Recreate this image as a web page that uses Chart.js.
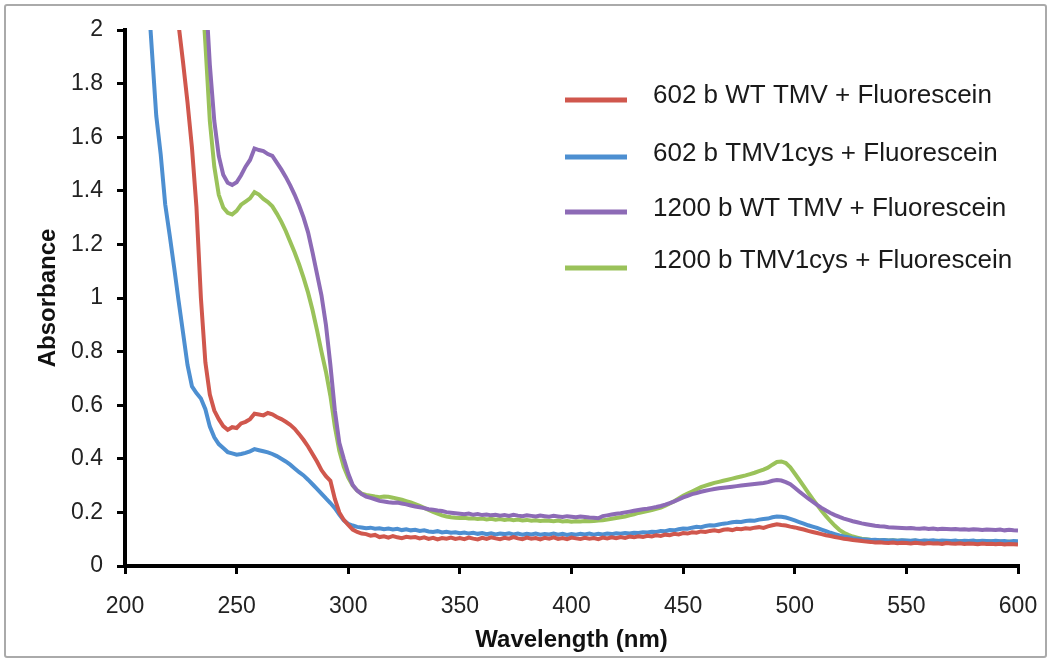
<!DOCTYPE html>
<html>
<head>
<meta charset="utf-8">
<title>Absorbance spectra</title>
<script src="https://cdn.jsdelivr.net/npm/chart.js@4/dist/chart.umd.min.js"></script>
<style>
  body { margin: 0; background: #fff; }
  #wrap { position: relative; width: 1052px; height: 661px; }
  #frame {
    position: absolute; left: 4px; top: 4px; width: 1039px; height: 650px;
    border: 2px solid #aaa; border-radius: 3px; pointer-events: none;
  }
  canvas { position: absolute; left: 0; top: 0; }
</style>
</head>
<body>
<div id="wrap">
  <canvas id="spectra" width="1052" height="661"></canvas>
  <div id="frame"></div>
</div>
<script>
// wavelength grid (nm), 2 nm steps
const wavelengths = [
  210, 212, 214, 216, 218, 220, 222, 224, 226, 228,
  230, 232, 234, 236, 238, 240, 242, 244, 246, 248,
  250, 252, 254, 256, 258, 260, 262, 264, 266, 268,
  270, 272, 274, 276, 278, 280, 282, 284, 286, 288,
  290, 292, 294, 296, 298, 300, 302, 304, 306, 308,
  310, 312, 314, 316, 318, 320, 322, 324, 326, 328,
  330, 332, 334, 336, 338, 340, 342, 344, 346, 348,
  350, 352, 354, 356, 358, 360, 362, 364, 366, 368,
  370, 372, 374, 376, 378, 380, 382, 384, 386, 388,
  390, 392, 394, 396, 398, 400, 402, 404, 406, 408,
  410, 412, 414, 416, 418, 420, 422, 424, 426, 428,
  430, 432, 434, 436, 438, 440, 442, 444, 446, 448,
  450, 452, 454, 456, 458, 460, 462, 464, 466, 468,
  470, 472, 474, 476, 478, 480, 482, 484, 486, 488,
  490, 492, 494, 496, 498, 500, 502, 504, 506, 508,
  510, 512, 514, 516, 518, 520, 522, 524, 526, 528,
  530, 532, 534, 536, 538, 540, 542, 544, 546, 548,
  550, 552, 554, 556, 558, 560, 562, 564, 566, 568,
  570, 572, 574, 576, 578, 580, 582, 584, 586, 588,
  590, 592, 594, 596, 598, 600
];

// 602 b WT TMV + Fluorescein
const wt602 = [
  null, null, null, null, null, null, 2.16, 2.02, 1.88, 1.73,
  1.56, 1.34, 1.00, 0.76, 0.64, 0.58, 0.548, 0.522, 0.508, 0.518,
  0.515, 0.532, 0.538, 0.548, 0.568, 0.565, 0.562, 0.571, 0.566, 0.556,
  0.548, 0.538, 0.527, 0.512, 0.492, 0.470, 0.446, 0.418, 0.390, 0.358,
  0.335, 0.318, 0.250, 0.200, 0.172, 0.153, 0.136, 0.127, 0.121, 0.119,
  0.113, 0.116, 0.108, 0.111, 0.106, 0.112, 0.107, 0.104, 0.109, 0.106,
  0.108, 0.103, 0.107, 0.101, 0.105, 0.099, 0.104, 0.102, 0.106, 0.101,
  0.104, 0.100, 0.106, 0.102, 0.099, 0.105, 0.101, 0.107, 0.103, 0.100,
  0.105, 0.102, 0.108, 0.103, 0.100, 0.106, 0.102, 0.104, 0.099, 0.105,
  0.102, 0.107, 0.101, 0.104, 0.100, 0.106, 0.103, 0.101, 0.105, 0.102,
  0.104, 0.100, 0.106, 0.103, 0.107, 0.104, 0.108, 0.105, 0.110, 0.107,
  0.111, 0.108, 0.113, 0.110, 0.115, 0.112, 0.117, 0.115, 0.120, 0.118,
  0.123, 0.121, 0.126, 0.124, 0.129, 0.127, 0.131, 0.133, 0.130, 0.135,
  0.137, 0.134, 0.139, 0.137, 0.141, 0.139, 0.143, 0.145, 0.142, 0.148,
  0.152, 0.156, 0.153, 0.151, 0.147, 0.144, 0.140, 0.136, 0.131, 0.127,
  0.123, 0.119, 0.115, 0.112, 0.108, 0.105, 0.102, 0.100, 0.097, 0.095,
  0.093, 0.091, 0.090, 0.088, 0.089, 0.087, 0.086, 0.088, 0.085, 0.087,
  0.086, 0.084, 0.087, 0.085, 0.083, 0.086, 0.084, 0.085, 0.082, 0.086,
  0.084, 0.083, 0.085, 0.082, 0.084, 0.083, 0.081, 0.084, 0.082, 0.083,
  0.081, 0.083, 0.080, 0.082, 0.081, 0.080
];

// 602 b TMV1cys + Fluorescein
const cys602 = [
  2.18, 1.93, 1.68, 1.535, 1.35, 1.235, 1.115, 0.99, 0.87, 0.75,
  0.67, 0.645, 0.625, 0.585, 0.52, 0.48, 0.455, 0.44, 0.425, 0.42,
  0.415, 0.418, 0.422, 0.428, 0.436, 0.432, 0.428, 0.424, 0.418, 0.410,
  0.400, 0.390, 0.378, 0.364, 0.350, 0.338, 0.322, 0.305, 0.288, 0.270,
  0.252, 0.235, 0.216, 0.192, 0.170, 0.157, 0.151, 0.146, 0.144, 0.141,
  0.143, 0.139, 0.141, 0.137, 0.140, 0.136, 0.139, 0.134, 0.137, 0.133,
  0.135, 0.131, 0.133, 0.129, 0.127, 0.130, 0.125, 0.128, 0.124, 0.126,
  0.122, 0.125, 0.121, 0.124, 0.120, 0.123, 0.119, 0.122, 0.118, 0.121,
  0.119, 0.122, 0.118, 0.121, 0.117, 0.120, 0.118, 0.121, 0.117, 0.119,
  0.118, 0.121, 0.117, 0.120, 0.116, 0.119, 0.117, 0.120, 0.118, 0.121,
  0.117, 0.120, 0.118, 0.121, 0.119, 0.122, 0.120, 0.123, 0.121, 0.124,
  0.123, 0.126, 0.125, 0.128, 0.127, 0.131, 0.130, 0.134, 0.133, 0.137,
  0.140, 0.139, 0.143, 0.146, 0.145, 0.149, 0.152, 0.151, 0.155, 0.158,
  0.160, 0.163, 0.165, 0.164, 0.168, 0.170, 0.169, 0.173, 0.175, 0.177,
  0.182, 0.185, 0.184, 0.181, 0.176, 0.170, 0.164, 0.158, 0.152, 0.147,
  0.142, 0.136, 0.130, 0.124, 0.119, 0.114, 0.110, 0.107, 0.104, 0.102,
  0.100, 0.099, 0.097, 0.098, 0.096, 0.097, 0.095, 0.096, 0.094, 0.096,
  0.095, 0.094, 0.096, 0.093, 0.095, 0.094, 0.096, 0.093, 0.095, 0.094,
  0.093, 0.095, 0.092, 0.094, 0.093, 0.095, 0.092, 0.094, 0.093, 0.092,
  0.094, 0.092, 0.093, 0.091, 0.093, 0.092
];

// 1200 b WT TMV + Fluorescein
const wt1200 = [
  null, null, null, null, null, null, null, null, null, null,
  null, null, null, 2.16, 1.87, 1.66, 1.53, 1.46, 1.43, 1.422,
  1.432, 1.458, 1.49, 1.515, 1.558, 1.552, 1.548, 1.537, 1.53, 1.505,
  1.48, 1.452, 1.42, 1.385, 1.345, 1.30, 1.245, 1.17, 1.09, 1.01,
  0.90, 0.75, 0.58, 0.46, 0.40, 0.345, 0.302, 0.281, 0.268, 0.259,
  0.254, 0.249, 0.243, 0.241, 0.238, 0.236, 0.237, 0.233, 0.230, 0.226,
  0.222, 0.219, 0.216, 0.212, 0.210, 0.207, 0.205, 0.201, 0.199, 0.197,
  0.195, 0.193, 0.196, 0.191, 0.194, 0.190, 0.192, 0.189, 0.191, 0.188,
  0.190, 0.187, 0.191, 0.188, 0.186, 0.189, 0.187, 0.185, 0.188, 0.186,
  0.184, 0.187, 0.185, 0.183, 0.186, 0.184, 0.182, 0.185, 0.183, 0.181,
  0.180, 0.178, 0.186, 0.189, 0.192, 0.195, 0.197, 0.200, 0.203, 0.206,
  0.209, 0.212, 0.214, 0.217, 0.220, 0.224, 0.229, 0.235, 0.241, 0.248,
  0.256, 0.262, 0.268, 0.272, 0.277, 0.281, 0.284, 0.287, 0.290, 0.292,
  0.294, 0.296, 0.298, 0.300, 0.302, 0.304, 0.306, 0.308, 0.310, 0.313,
  0.318, 0.321, 0.319, 0.313, 0.305, 0.292, 0.278, 0.265, 0.252, 0.240,
  0.228, 0.217, 0.207, 0.198, 0.190, 0.183, 0.177, 0.172, 0.167, 0.163,
  0.159, 0.156, 0.153, 0.150, 0.148, 0.147, 0.145, 0.144, 0.143, 0.142,
  0.141, 0.142, 0.140, 0.139, 0.141, 0.138, 0.140, 0.137, 0.139, 0.138,
  0.137, 0.138, 0.136, 0.137, 0.135, 0.137, 0.136, 0.134, 0.136, 0.135,
  0.134, 0.136, 0.133, 0.135, 0.133, 0.132
];

// 1200 b TMV1cys + Fluorescein
const cys1200 = [
  null, null, null, null, null, null, null, null, null, null,
  null, null, 2.22, 1.95, 1.66, 1.49, 1.385, 1.338, 1.318, 1.312,
  1.325, 1.348, 1.36, 1.372, 1.395, 1.386, 1.37, 1.358, 1.342, 1.315,
  1.285, 1.25, 1.21, 1.17, 1.125, 1.075, 1.02, 0.955, 0.88, 0.80,
  0.725, 0.635, 0.52, 0.43, 0.37, 0.33, 0.30, 0.282, 0.27, 0.265,
  0.262, 0.259, 0.257, 0.259, 0.258, 0.255, 0.251, 0.247, 0.242, 0.237,
  0.231, 0.224, 0.217, 0.209, 0.202, 0.195, 0.189, 0.185, 0.182, 0.180,
  0.179, 0.180, 0.177, 0.178, 0.175, 0.177, 0.174, 0.176, 0.173, 0.175,
  0.172, 0.174, 0.171, 0.173, 0.170, 0.172, 0.169, 0.171, 0.168, 0.170,
  0.169, 0.167, 0.170, 0.166, 0.168, 0.165, 0.167, 0.166, 0.168, 0.167,
  0.168, 0.170, 0.171, 0.173, 0.176, 0.179, 0.182, 0.185, 0.189, 0.193,
  0.198, 0.201, 0.205, 0.209, 0.213, 0.218, 0.225, 0.233, 0.242, 0.252,
  0.262, 0.270, 0.278, 0.286, 0.294, 0.300, 0.305, 0.310, 0.314, 0.318,
  0.322, 0.326, 0.330, 0.334, 0.338, 0.343, 0.348, 0.354, 0.360, 0.367,
  0.378, 0.388, 0.390, 0.384, 0.368, 0.345, 0.322, 0.298, 0.274, 0.250,
  0.228, 0.206, 0.186, 0.167, 0.150, 0.135, 0.124, 0.116, 0.110, 0.106,
  0.102, 0.100, 0.098, 0.097, 0.096, 0.097, 0.095, 0.096, 0.094, 0.095,
  0.094, 0.093, 0.095, 0.092, 0.094, 0.093, 0.092, 0.094, 0.091, 0.093,
  0.092, 0.091, 0.093, 0.090, 0.092, 0.091, 0.093, 0.090, 0.091, 0.092,
  0.090, 0.091, 0.089, 0.091, 0.090, 0.089
];

const seriesNames = [
  '602 b WT TMV + Fluorescein',
  '602 b TMV1cys + Fluorescein',
  '1200 b WT TMV + Fluorescein',
  '1200 b TMV1cys + Fluorescein'
];
const seriesValues = [wt602, cys602, wt1200, cys1200];
const seriesColors = ['#d0574d', '#4d8fd1', '#8d6bb6', '#9ac25a'];

const xTicks = [200, 250, 300, 350, 400, 450, 500, 550, 600];
const yTicks = [0, 0.2, 0.4, 0.6, 0.8, 1, 1.2, 1.4, 1.6, 1.8, 2];

const tickFont = { family: 'Liberation Sans, Arial, sans-serif', size: 23 };
const titleFont = { family: 'Liberation Sans, Arial, sans-serif', size: 24, weight: 'bold' };

// legend drawn inside the plot, line sample + label per series
const sideLegend = {
  id: 'sideLegend',
  afterDatasetsDraw(chart, args, opts) {
    const ctx = chart.ctx;
    ctx.save();
    ctx.font = opts.font;
    ctx.fillStyle = '#1a1a1a';
    ctx.textBaseline = 'middle';
    ctx.textAlign = 'left';
    chart.data.datasets.forEach((ds, i) => {
      const y = opts.rows[i];
      ctx.strokeStyle = ds.borderColor;
      ctx.lineWidth = 5;
      ctx.beginPath();
      ctx.moveTo(opts.lineFrom, y);
      ctx.lineTo(opts.lineTo, y);
      ctx.stroke();
      ctx.fillText(ds.label, opts.textX, y + opts.textDy[i]);
    });
    ctx.restore();
  }
};

new Chart(document.getElementById('spectra'), {
  type: 'line',
  data: {
    datasets: seriesNames.map((name, i) => ({
      label: name,
      data: wavelengths.map((w, k) => ({ x: w, y: seriesValues[i][k] })),
      borderColor: seriesColors[i],
      borderWidth: 4,
      pointRadius: 0,
      tension: 0,
      spanGaps: false
    }))
  },
  options: {
    responsive: false,
    animation: false,
    events: [],
    layout: { padding: { left: 0, top: 30, right: 34, bottom: 0 } },
    plugins: {
      legend: { display: false },
      tooltip: { enabled: false },
      sideLegend: {
        font: '26px "Liberation Sans", Arial, sans-serif',
        lineFrom: 565, lineTo: 627, textX: 653,
        rows: [100, 157, 212, 268],
        textDy: [-4, -3, -3, -7]
      }
    },
    scales: {
      x: {
        type: 'linear',
        min: 200, max: 600,
        // keep the plot edge fixed; the end labels may hang past it
        afterFit: s => { s.height = 95; s.paddingLeft = 0; s.paddingRight = 0; },
        afterBuildTicks: s => { s.ticks = xTicks.map(v => ({ value: v })); },
        border: { display: true, color: '#000', width: 4 },
        grid: { drawOnChartArea: false, color: '#000', lineWidth: 3, tickLength: 8 },
        ticks: { color: '#222', font: tickFont, padding: 19, maxRotation: 0 },
        title: { display: true, text: 'Wavelength (nm)', color: '#111', font: titleFont, padding: { top: 0, bottom: 6 } }
      },
      y: {
        min: 0, max: 2,
        afterFit: s => { s.width = 125; s.paddingTop = 0; s.paddingBottom = 0; },
        afterBuildTicks: s => { s.ticks = yTicks.map(v => ({ value: v })); },
        border: { display: true, color: '#000', width: 4 },
        grid: { drawOnChartArea: false, color: '#000', lineWidth: 3, tickLength: 8 },
        ticks: { color: '#222', font: tickFont, padding: 14, callback: v => String(Number(v.toFixed(1))) },
        title: { display: true, text: 'Absorbance', color: '#111', font: titleFont, padding: { top: 34, bottom: 0 } }
      }
    }
  },
  plugins: [sideLegend]
});
</script>
</body>
</html>
